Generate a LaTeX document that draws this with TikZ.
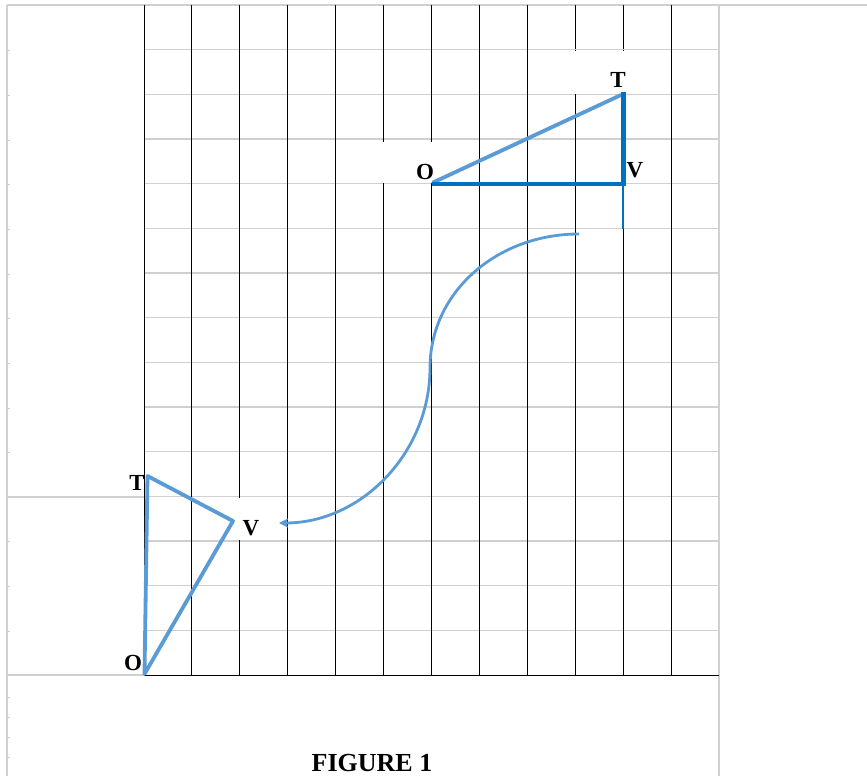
\documentclass[tikz,border=0pt]{standalone}
\usepackage{fontspec}
\setmainfont{Liberation Serif}
\usetikzlibrary{arrows.meta}
\definecolor{lblue}{HTML}{5B9BD5}
\definecolor{dblue}{HTML}{0070C0}
\definecolor{gridgray}{HTML}{D0D0D0}
\begin{document}
\begin{tikzpicture}[x=1pt,y=-1pt,
  gridg/.style={draw=gridgray,line width=1.1pt},
  gridk/.style={draw=black,line width=0.9pt},
  lbl/.style={font=\bfseries\fontsize{23}{23}\selectfont,inner sep=0pt},
  lightline/.style={draw=lblue,line width=3.8pt,line cap=round,line join=round},
  darkline/.style={draw=dblue,line width=4.6pt,line join=miter},
  curvearrow/.style={draw=lblue,line width=2.8pt,-{Stealth[length=9pt,width=9pt,inset=2pt]}}
]
\useasboundingbox (0,0) rectangle (867,776);
\fill[white] (0,0) rectangle (867,776);
% outer frame
\draw[gridg] (7,5) -- (867,5);
\draw[gridg] (7,5) -- (7,776);
\draw[gridg] (719,5) -- (719,776);
\draw[gridg] (7,497) -- (144,497);
\draw[gridg] (7,675) -- (144,675);
\foreach \y in {50,95,140,184,229,274,318,363,408,452,541,586,631,697,717,737,757}
  \draw[draw=gridgray,line width=0.8pt] (7,\y) -- (9.5,\y);
% grid
\foreach \i in {1,...,14} \draw[gridg] (144,5+44.667*\i) -- (719,5+44.667*\i);
\foreach \i in {0,...,11} \draw[gridk] (144+47.917*\i,5) -- (144+47.917*\i,675);
\draw[gridk] (144,675) -- (719,675);
% white label boxes
\fill[white] (376,141.5) rectangle (432.5,183);
\fill[white] (572,51) rectangle (625,93.5);
\fill[white] (236,497.5) rectangle (285,540);
\draw[gridg] (572,49.67) -- (625,49.67);
\draw[draw=dblue,line width=1.1pt] (623,184) -- (623,229);
% top triangle
\coordinate (O1) at (432,184);
\coordinate (V1) at (623.5,184);
\coordinate (T1) at (623.5,92);
\draw[lightline] (433,182.5) -- (621,95);
\draw[darkline] (O1) -- (V1) -- (T1);
% bottom triangle
\coordinate (O2) at (144.5,674);
\coordinate (T2) at (147.5,476);
\coordinate (V2) at (233,521);
\draw[lightline] (O2) -- (T2) -- (V2) -- cycle;
% labels
\node[lbl] (tT) at (618,80) {T};
\node[lbl] (tV) at (635,170) {V};
\node[lbl] (tO) at (425,172) {O};
\node[lbl] (bT) at (137,483) {T};
\node[lbl] (bV) at (251,528) {V};
\node[lbl] (bO) at (133,663) {O};
\node[font=\bfseries\fontsize{26}{26}\selectfont,inner sep=0pt] (fig) at (372,763) {FIGURE 1};
% curved arrow
\coordinate (s) at (579,234);
\coordinate (m) at (430,368);
\coordinate (e) at (279,523);
\draw[curvearrow] (s) .. controls (497,234) and (430,292) .. (m)
  .. controls (430,452) and (362,523) .. (e);
\end{tikzpicture}
\end{document}
